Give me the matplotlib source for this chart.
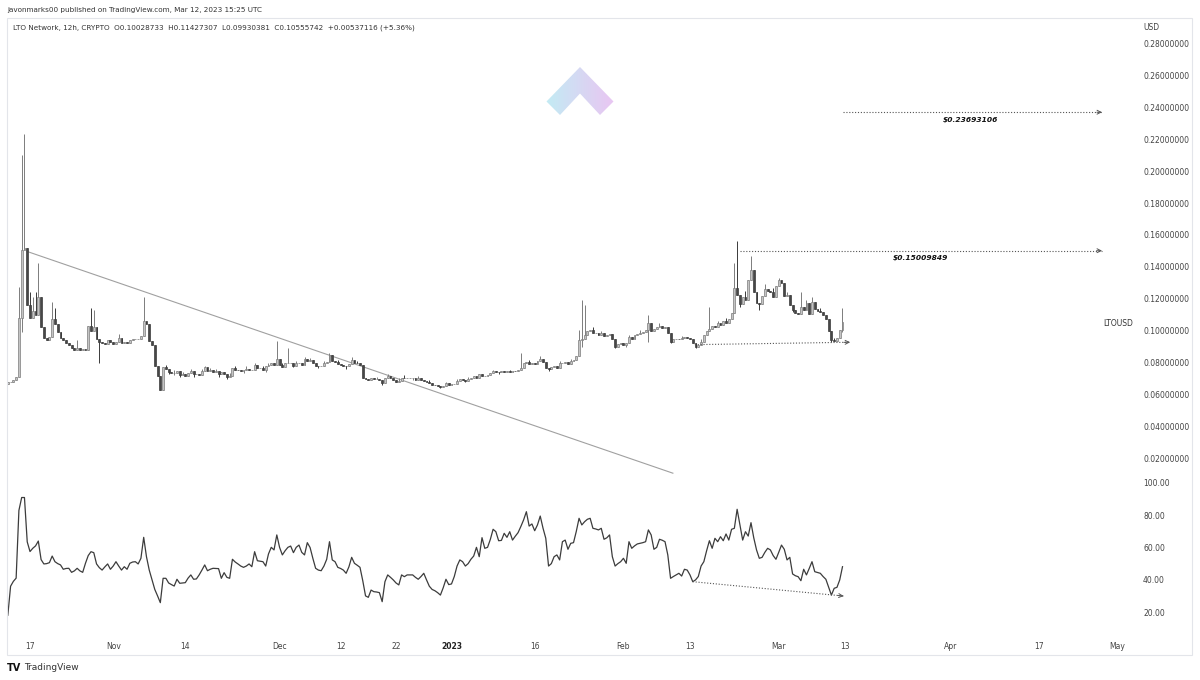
import numpy as np
import pandas as pd
import matplotlib
matplotlib.use("Agg")
import matplotlib.pyplot as plt
import matplotlib.dates as mdates
from matplotlib.colors import LinearSegmentedColormap
from matplotlib.patches import Polygon, Rectangle
from datetime import datetime

plt.rcParams['font.family'] = ['DejaVu Sans']

# 12h candles, LTO/USD, from 2022-10-13 00:00 to 2023-03-12 12:00
first_open = 0.0665
closes = [
    0.0675, 0.0680, 0.0690, 0.0710, 0.1080, 0.1505, 0.1520, 0.1160, 0.1080, 0.1120,
    0.1100, 0.1210, 0.1025, 0.0956, 0.0940, 0.0960, 0.1070, 0.1040, 0.0990, 0.0955,
    0.0940, 0.0920, 0.0910, 0.0890, 0.0880, 0.0890, 0.0880, 0.0885, 0.0880, 0.1027,
    0.1000, 0.1025, 0.0950, 0.0930, 0.0920, 0.0915, 0.0940, 0.0930, 0.0915, 0.0930,
    0.0955, 0.0920, 0.0930, 0.0920, 0.0940, 0.0945, 0.0950, 0.0950, 0.0965, 0.1060,
    0.1040, 0.0933, 0.0910, 0.0777, 0.0714, 0.0630, 0.0770, 0.0760, 0.0740, 0.0735,
    0.0735, 0.0745, 0.0720, 0.0725, 0.0715, 0.0735, 0.0745, 0.0725, 0.0730, 0.0720,
    0.0745, 0.0770, 0.0745, 0.0755, 0.0740, 0.0745, 0.0725, 0.0740, 0.0730, 0.0710,
    0.0715, 0.0765, 0.0755, 0.0750, 0.0745, 0.0755, 0.0760, 0.0750, 0.0755, 0.0785,
    0.0765, 0.0765, 0.0750, 0.0775, 0.0785, 0.0795, 0.0785, 0.0820, 0.0785, 0.0770,
    0.0795, 0.0795, 0.0795, 0.0780, 0.0795, 0.0800, 0.0785, 0.0820, 0.0810, 0.0815,
    0.0795, 0.0780, 0.0775, 0.0780, 0.0795, 0.0805, 0.0845, 0.0810, 0.0805, 0.0790,
    0.0785, 0.0780, 0.0775, 0.0790, 0.0815, 0.0800, 0.0795, 0.0785, 0.0700, 0.0695,
    0.0690, 0.0705, 0.0695, 0.0695, 0.0690, 0.0672, 0.0705, 0.0715, 0.0700, 0.0690,
    0.0680, 0.0685, 0.0705, 0.0700, 0.0705, 0.0705, 0.0705, 0.0690, 0.0705, 0.0690,
    0.0685, 0.0680, 0.0670, 0.0660, 0.0658, 0.0652, 0.0645, 0.0655, 0.0672, 0.0660,
    0.0665, 0.0668, 0.0685, 0.0695, 0.0690, 0.0685, 0.0695, 0.0700, 0.0715, 0.0700,
    0.0725, 0.0715, 0.0718, 0.0722, 0.0735, 0.0745, 0.0740, 0.0738, 0.0745, 0.0738,
    0.0745, 0.0738, 0.0748, 0.0745, 0.0755, 0.0765, 0.0795, 0.0805, 0.0790, 0.0795,
    0.0790, 0.0810, 0.0825, 0.0805, 0.0765, 0.0757, 0.0770, 0.0775, 0.0768, 0.0795,
    0.0800, 0.0805, 0.0790, 0.0810, 0.0815, 0.0840, 0.0940, 0.0950, 0.0975, 0.1000,
    0.1005, 0.0985, 0.0985, 0.0975, 0.0985, 0.0965, 0.0975, 0.0980, 0.0950, 0.0900,
    0.0915, 0.0925, 0.0910, 0.0925, 0.0960, 0.0950, 0.0975, 0.0980, 0.0985, 0.0990,
    0.1005, 0.1050, 0.1000, 0.1010, 0.1025, 0.1030, 0.1015, 0.1020, 0.0985, 0.0930,
    0.0945, 0.0950, 0.0948, 0.0955, 0.0958, 0.0955, 0.0948, 0.0920, 0.0900, 0.0912,
    0.0930, 0.0970, 0.0995, 0.1010, 0.1030, 0.1020, 0.1045, 0.1035, 0.1060, 0.1050,
    0.1075, 0.1110, 0.1270, 0.1225, 0.1165, 0.1210, 0.1195, 0.1320, 0.1380, 0.1245,
    0.1175, 0.1165, 0.1220, 0.1260, 0.1250, 0.1245, 0.1210, 0.1280, 0.1315, 0.1300,
    0.1215, 0.1225, 0.1160, 0.1130, 0.1110, 0.1105, 0.1150, 0.1130, 0.1170, 0.1105,
    0.1180, 0.1135, 0.1125, 0.1115, 0.1100, 0.1070, 0.0996, 0.0940, 0.0935, 0.0955,
    0.1003, 0.1056,
]

# wicks (candle number -> price)
wick_high = {4: 0.1275, 5: 0.210, 6: 0.223, 8: 0.124, 9: 0.121, 10: 0.124, 11: 0.1425,
             16: 0.118, 17: 0.114, 25: 0.094, 30: 0.114, 31: 0.113, 40: 0.098, 49: 0.121,
             57: 0.0785, 60: 0.0752, 63: 0.0742, 66: 0.0762, 70: 0.0760, 71: 0.078,
             73: 0.0768, 75: 0.0762, 80: 0.0735, 82: 0.0778, 86: 0.0775, 89: 0.0800,
             92: 0.0780, 94: 0.0800, 97: 0.0933, 99: 0.0795, 101: 0.089, 104: 0.0812,
             107: 0.0835, 109: 0.0830, 114: 0.0808, 116: 0.086, 119: 0.0818, 124: 0.0832,
             126: 0.0812, 133: 0.0712, 137: 0.0725, 141: 0.0700, 143: 0.0722, 148: 0.0718,
             152: 0.0690, 158: 0.068, 162: 0.0698, 166: 0.0708, 171: 0.073, 175: 0.0756,
             181: 0.0755, 185: 0.086, 188: 0.0815, 192: 0.0840, 199: 0.0808, 203: 0.0824,
             206: 0.1006, 207: 0.119, 208: 0.116, 211: 0.1022, 214: 0.1000, 224: 0.0975,
             228: 0.1005, 231: 0.110, 235: 0.1050, 243: 0.0968, 250: 0.0945, 253: 0.115,
             256: 0.1062, 259: 0.1078, 262: 0.1425, 263: 0.156, 266: 0.1250, 268: 0.1465,
             273: 0.1290, 276: 0.1265, 278: 0.133, 281: 0.1245, 286: 0.1245, 288: 0.1190,
             290: 0.121, 293: 0.1140, 298: 0.0955, 301: 0.11427}
wick_low = {5: 0.099, 33: 0.080, 55: 0.0625, 58: 0.0725, 60: 0.0722, 62: 0.0708,
            67: 0.0712, 76: 0.0712, 79: 0.0698, 85: 0.0735, 93: 0.0740, 103: 0.0770,
            112: 0.0765, 122: 0.0762, 135: 0.0662, 146: 0.0693, 156: 0.0638, 165: 0.0675,
            177: 0.0728, 195: 0.0745, 207: 0.090, 219: 0.0890, 223: 0.0900, 231: 0.093,
            239: 0.0922, 248: 0.0893, 264: 0.1150, 271: 0.113, 283: 0.1115, 297: 0.0928,
            301: 0.0993}

# RSI per candle
rsi = [
    18.0, 36.0, 39.0, 41.0, 83.0, 91.0, 91.0, 63.5, 57.5, 59.5,
    61.0, 64.0, 52.5, 49.8, 50.0, 50.6, 54.7, 51.2, 50.0, 49.2,
    46.5, 47.0, 47.1, 44.6, 45.5, 47.1, 45.5, 44.6, 50.2, 55.0,
    57.4, 56.8, 49.8, 47.5, 46.0, 48.0, 49.8, 46.5, 48.5, 51.2,
    48.5, 46.0, 48.1, 46.5, 50.2, 51.0, 51.2, 49.8, 53.3, 66.3,
    54.3, 46.0, 40.0, 34.0, 30.0, 25.8, 40.9, 40.9, 38.0, 37.0,
    36.1, 40.3, 37.8, 38.0, 38.2, 41.0, 43.0, 40.3, 40.5, 43.0,
    46.0, 49.2, 45.6, 46.5, 47.1, 47.0, 46.9, 40.9, 44.4, 41.5,
    40.9, 52.7, 51.0, 49.8, 48.5, 47.7, 48.5, 49.8, 48.1, 57.4,
    51.8, 51.5, 51.2, 48.5, 56.0, 60.1, 58.5, 67.8, 60.1, 55.4,
    58.0, 60.1, 60.9, 56.8, 60.1, 61.5, 57.0, 55.4, 63.0, 60.0,
    53.3, 47.1, 46.0, 45.6, 48.5, 52.7, 63.6, 52.3, 51.2, 47.7,
    47.0, 46.0, 44.0, 48.0, 53.9, 50.2, 49.0, 47.7, 39.4, 30.0,
    29.1, 33.6, 32.6, 32.4, 32.0, 26.4, 38.8, 43.0, 41.5, 39.9,
    38.0, 36.8, 43.0, 41.9, 43.0, 43.0, 43.0, 41.5, 40.3, 42.0,
    44.0, 39.9, 36.0, 34.0, 33.2, 32.0, 30.5, 35.0, 40.3, 37.0,
    37.4, 42.0, 48.5, 52.3, 51.2, 48.5, 50.0, 52.7, 54.7, 60.1,
    54.3, 66.1, 59.5, 60.1, 65.0, 71.3, 69.8, 64.2, 64.4, 68.8,
    66.3, 69.8, 64.6, 67.0, 69.2, 73.0, 77.1, 82.2, 73.3, 74.6,
    70.4, 74.0, 79.5, 72.0, 65.7, 48.5, 50.0, 54.3, 55.4, 52.3,
    63.6, 64.6, 58.9, 62.6, 63.0, 70.0, 78.1, 74.0, 76.0, 77.5,
    78.1, 71.9, 71.5, 70.9, 71.9, 65.1, 66.0, 67.8, 54.3, 48.5,
    50.0, 51.2, 53.3, 50.2, 63.6, 59.5, 61.0, 62.2, 62.6, 63.0,
    63.6, 70.9, 67.8, 58.9, 60.1, 65.1, 64.5, 63.6, 55.4, 40.9,
    42.0, 43.0, 44.0, 42.3, 46.5, 46.0, 43.0, 38.8, 39.9, 42.0,
    48.5, 51.2, 58.0, 64.2, 59.5, 65.7, 63.6, 66.7, 64.2, 68.4,
    64.6, 71.3, 71.9, 83.7, 74.0, 64.6, 69.8, 67.1, 75.4, 66.0,
    58.5, 53.3, 53.9, 57.0, 59.5, 58.5, 55.0, 52.7, 57.0, 61.5,
    58.9, 52.3, 53.9, 43.6, 42.5, 41.9, 39.4, 46.5, 43.0, 47.0,
    51.2, 45.0, 44.5, 44.0, 42.0, 40.3, 35.3, 30.5, 34.7, 35.3,
    39.9, 48.1,
]

# drawn annotations
target_hi = 0.23693106
target_lo = 0.15009849
trend_start = (datetime(2022, 10, 16, 12), 0.1496)
trend_end = (datetime(2023, 2, 9, 22), 0.0106)
price_div = [(datetime(2023, 2, 13, 21), 0.0912), (datetime(2023, 3, 13, 21), 0.0927)]
rsi_div = [(datetime(2023, 2, 13, 12), 38.8), (datetime(2023, 3, 12, 17), 29.9)]

date_ticks = [datetime(2022, 10, 17), datetime(2022, 11, 1), datetime(2022, 11, 14),
              datetime(2022, 12, 1), datetime(2022, 12, 12), datetime(2022, 12, 22),
              datetime(2023, 1, 1), datetime(2023, 1, 16), datetime(2023, 2, 1),
              datetime(2023, 2, 13), datetime(2023, 3, 1), datetime(2023, 3, 13),
              datetime(2023, 4, 1), datetime(2023, 4, 17), datetime(2023, 5, 1)]
date_labels = ["17", "Nov", "14", "Dec", "12", "22", "2023", "16", "Feb", "13",
               "Mar", "13", "Apr", "17", "May"]

W, H = 1200, 680
fig = plt.figure(figsize=(W / 100, H / 100), dpi=100)
fig.patch.set_facecolor("white")


def box(x0, y0, x1, y1):
    return [x0 / W, 1 - y1 / H, (x1 - x0) / W, (y1 - y0) / H]


ax = fig.add_axes(box(7, 18, 1135, 476))
ax_r = fig.add_axes(box(7, 476, 1135, 636), sharex=ax)
for a in (ax, ax_r):
    a.set_facecolor("none")
    for s in a.spines.values():
        s.set_visible(False)

dates = pd.date_range("2022-10-13 00:00", periods=len(closes), freq="12h")
x = mdates.date2num(dates.to_pydatetime())
c = np.array(closes)
o = np.array([first_open] + closes[:-1])
hi = np.maximum(o, c)
lo = np.minimum(o, c)
for k, v in wick_high.items():
    hi[k] = v
for k, v in wick_low.items():
    lo[k] = v

up = c >= o
dn = ~up
up_face, up_edge = "#c4c4c4", "#7c7c7c"
dn_face, dn_edge = "#474747", "#3a3a3a"
ax.vlines(x[up], lo[up], hi[up], color=up_edge, lw=0.7, zorder=2)
ax.vlines(x[dn], lo[dn], hi[dn], color=dn_edge, lw=0.7, zorder=2)
ax.bar(x[up], (c - o)[up], bottom=o[up], width=0.34, color=up_face,
       edgecolor=up_edge, linewidth=0.5, zorder=3)
ax.bar(x[dn], (c - o)[dn], bottom=o[dn], width=0.34, color=dn_face,
       edgecolor=dn_edge, linewidth=0.5, zorder=3)

# trendline
ax.plot([trend_start[0], trend_end[0]], [trend_start[1], trend_end[1]],
        color="#a0a0a0", lw=0.8, zorder=1)

dot = dict(color="#555555", lw=0.8, linestyle=(0, (1, 1.6)))


def dotted_arrow(a, p0, p1, back):
    a.plot([p0[0], p1[0]], [p0[1], p1[1]], **dot, zorder=4)
    p0n = (mdates.date2num(p0[0]), p0[1])
    p1n = (mdates.date2num(p1[0]), p1[1])
    mid = (p1n[0] - (p1n[0] - p0n[0]) * back, p1n[1] - (p1n[1] - p0n[1]) * back)
    a.annotate("", xy=p1n, xytext=mid,
               arrowprops=dict(arrowstyle="->", color="#555555", lw=0.7,
                               shrinkA=0, shrinkB=0, mutation_scale=7))


dotted_arrow(ax, (datetime(2023, 3, 12, 14), target_hi), (datetime(2023, 4, 28, 7), target_hi), 0.02)
dotted_arrow(ax, (datetime(2023, 2, 22), target_lo), (datetime(2023, 4, 28, 7), target_lo), 0.015)
dotted_arrow(ax, price_div[0], price_div[1], 0.04)
dotted_arrow(ax_r, rsi_div[0], rsi_div[1], 0.04)

lab = dict(fontsize=5.4, fontweight="bold", fontstyle="italic", color="#111111",
           ha="center", va="center")
ax.text(mdates.date2num(datetime(2023, 4, 4, 12)), target_hi - 0.0046, "$%.8f" % target_hi, **lab)
ax.text(mdates.date2num(datetime(2023, 3, 26, 12)), target_lo - 0.0045, "$%.8f" % target_lo, **lab)

# RSI line
ax_r.plot(x, rsi, color="#3c3c3c", lw=0.9)

# scales
base = mdates.date2num(datetime(2022, 10, 17))
ax.set_xlim(base - 4.147, base + 199.24)
ax.set_ylim(0.00884, 0.2960)
ax_r.set_ylim(5.12, 104.34)

tick_style = dict(length=0, labelsize=5.5, labelcolor="#444444")
ax.yaxis.tick_right()
ax.set_yticks(np.arange(0.02, 0.281, 0.02))
ax.yaxis.set_major_formatter(plt.FuncFormatter(lambda v, p: "%.8f" % v))
ax.tick_params(axis="y", pad=5.8, **tick_style)
ax.tick_params(axis="x", bottom=False, labelbottom=False)

ax_r.yaxis.tick_right()
ax_r.set_yticks([20, 40, 60, 80, 100])
ax_r.yaxis.set_major_formatter(plt.FuncFormatter(lambda v, p: "%.2f" % v))
ax_r.tick_params(axis="y", pad=5.8, **tick_style)
ax_r.set_xticks(mdates.date2num(date_ticks))
ax_r.set_xticklabels(date_labels)
ax_r.tick_params(axis="x", pad=4.5, **tick_style)
for t in ax_r.get_xticklabels():
    if t.get_text() == "2023":
        t.set_fontweight("bold")
        t.set_color("#222222")

# overlay in pixel space: frame, logo, header
ov = fig.add_axes([0, 0, 1, 1], zorder=5)
ov.axis("off")
ov.add_patch(Rectangle((7, 18), 1185, 637, fill=False, edgecolor="#e3e5ea", lw=0.8))

cmap = LinearSegmentedColormap.from_list("lg", ["#c3ebf4", "#e9c6f2"])
grad = np.linspace(0, 1, 64).reshape(1, -1)
im = ov.imshow(grad, extent=(546, 614, 116, 66), cmap=cmap, aspect="auto", zorder=1)
chev = Polygon([(580, 67), (613.5, 101.5), (600, 115), (580, 93.5), (560, 115), (546.5, 101.5)],
               closed=True, transform=ov.transData)
im.set_clip_path(chev)
ov.set_xlim(0, W)
ov.set_ylim(H, 0)

ov.text(7, 10, "javonmarks00 published on TradingView.com, Mar 12, 2023 15:25 UTC",
        fontsize=5.25, color="#333333", va="center")
ov.text(13, 28, "LTO Network, 12h, CRYPTO  O0.10028733  H0.11427307  L0.09930381  "
        "C0.10555742  +0.00537116 (+5.36%)", fontsize=5.2, color="#333333", va="center")
ov.text(1143, 28, "USD", fontsize=5.5, color="#444444", va="center")
ov.text(1133, 323, "LTOUSD", fontsize=5.5, color="#333333", va="center", ha="right")
ov.text(7, 668, "TV", fontsize=7, fontweight="bold", color="#111111", va="center")
ov.text(24, 668, "TradingView", fontsize=6.5, color="#333333", va="center")

fig.savefig("out.png", dpi=100)
